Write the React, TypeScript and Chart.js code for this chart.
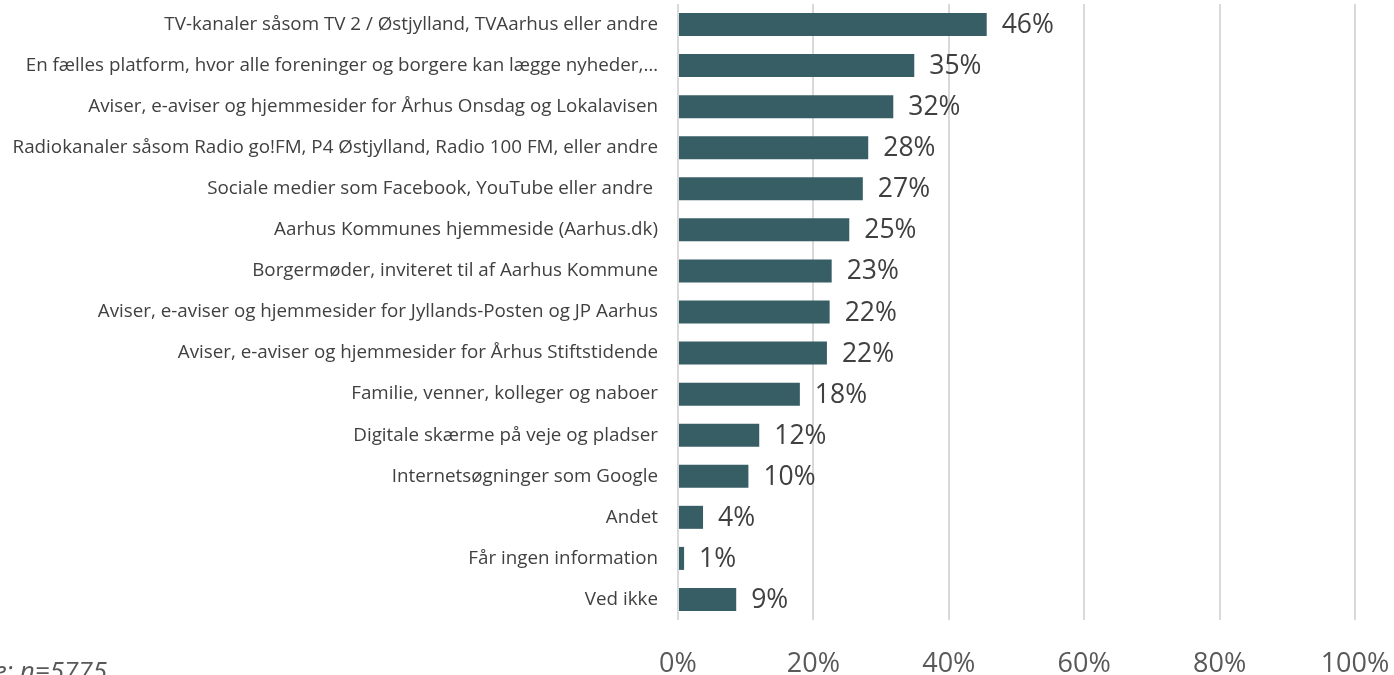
import React, { useEffect, useRef } from "react";
import { Chart, registerables } from "chart.js";

Chart.register(...registerables);

const categories: string[] = [
  "TV-kanaler såsom TV 2 / Østjylland, TVAarhus eller andre",
  "En fælles platform, hvor alle foreninger og borgere kan lægge nyheder,…",
  "Aviser, e-aviser og hjemmesider for Århus Onsdag og Lokalavisen",
  "Radiokanaler såsom Radio go!FM, P4 Østjylland, Radio 100 FM, eller andre",
  "Sociale medier som Facebook, YouTube eller andre ",
  "Aarhus Kommunes hjemmeside (Aarhus.dk)",
  "Borgermøder, inviteret til af Aarhus Kommune",
  "Aviser, e-aviser og hjemmesider for Jyllands-Posten og JP Aarhus",
  "Aviser, e-aviser og hjemmesider for Århus Stiftstidende",
  "Familie, venner, kolleger og naboer",
  "Digitale skærme på veje og pladser",
  "Internetsøgninger som Google",
  "Andet",
  "Får ingen information",
  "Ved ikke",
];

const values: number[] = [45.6, 34.9, 31.8, 28.1, 27.3, 25.3, 22.7, 22.4, 22.0, 18.0, 12.0, 10.4, 3.7, 0.9, 8.6];

const valueLabels: string[] = ["46%", "35%", "32%", "28%", "27%", "25%", "23%", "22%", "22%", "18%", "12%", "10%", "4%", "1%", "9%"];

const xTicks: number[] = [0, 20, 40, 60, 80, 100];

const noteText = "Base: n=5775";

export default function App() {
  const ref = useRef<HTMLCanvasElement | null>(null);

  useEffect(() => {
    if (!ref.current) return;
    const labelPlugin = {
      id: "valueLabels",
      afterDatasetsDraw(chart: any) {
        const ctx = chart.ctx;
        const meta = chart.getDatasetMeta(0);
        ctx.save();
        ctx.font = "26.5px 'Open Sans'";
        ctx.fillStyle = "#404040";
        ctx.textAlign = "left";
        ctx.textBaseline = "middle";
        meta.data.forEach((bar: any, i: number) => {
          ctx.fillText(valueLabels[i], bar.x + 15, bar.y + 1);
        });
        ctx.restore();
      },
    };
    const zeroPad = (scale: any) => {
      scale.paddingTop = 0;
      scale.paddingBottom = 0;
      scale.paddingLeft = 0;
      scale.paddingRight = 0;
    };
    const chart = new Chart(ref.current, {
      type: "bar",
      data: {
        labels: categories,
        datasets: [
          {
            data: values,
            backgroundColor: "#375E65",
            borderWidth: 0,
            barPercentage: 0.56,
            categoryPercentage: 1,
          },
        ],
      },
      options: {
        indexAxis: "y",
        responsive: false,
        animation: false,
        layout: { padding: { left: 0, right: 39, top: 4, bottom: 0 } },
        plugins: {
          legend: { display: false },
          tooltip: { enabled: false },
        },
        scales: {
          x: {
            min: 0,
            max: 100,
            afterBuildTicks: (scale: any) => {
              scale.ticks = xTicks.map((v) => ({ value: v }));
            },
            ticks: {
              callback: (v: any) => v + "%",
              font: { family: "'Open Sans'", size: 27 },
              color: "#595959",
              padding: 28,
              maxRotation: 0,
            },
            grid: { color: "#d9d9d9", lineWidth: 2, drawTicks: false },
            border: { display: false },
            afterFit: (scale: any) => {
              scale.height = 55;
              zeroPad(scale);
            },
          },
          y: {
            ticks: {
              font: { family: "'Open Sans'", size: 18.8 },
              color: "#404040",
              padding: 20,
              autoSkip: false,
            },
            grid: { display: false, drawTicks: false },
            border: { display: false },
            afterFit: (scale: any) => {
              scale.width = 678;
              zeroPad(scale);
            },
          },
        },
      },
      plugins: [labelPlugin],
    } as any);
    return () => chart.destroy();
  }, []);

  return (
    <div style={{ position: "absolute", left: 0, top: 0, width: 1394, height: 675, overflow: "hidden", background: "#fff" }}>
      <canvas ref={ref} width={1394} height={675} style={{ display: "block" }} />
      <div
        style={{
          position: "absolute",
          left: -300,
          width: 407,
          top: 652,
          textAlign: "right",
          fontFamily: "'Open Sans'",
          fontStyle: "italic",
          fontSize: 26,
          lineHeight: "36px",
          color: "#595959",
          whiteSpace: "nowrap",
        }}
      >
        {noteText}
      </div>
    </div>
  );
}
